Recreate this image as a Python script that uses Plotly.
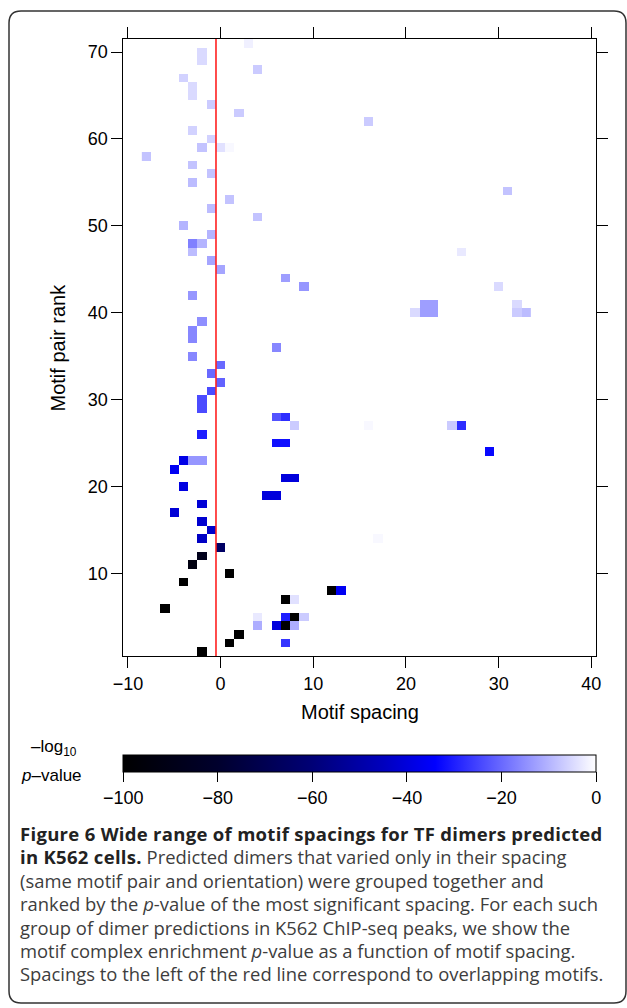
import plotly.graph_objects as go

# ---------------- data ----------------
spacing = [3, -2, -2, 4, -4, -3, -3, -1, 2, 16, -3, -1, -2, 0, 1, -8, -3, -1, -3, 31,
           1, -1, 4, -4, -1, -3, -2, -3, 26, -1, 0, 7, 9, 30, -3, 22, 23, 32,
           21, 22, 23, 32, 33, -2, -3, -3, 6, -3, 0, -1, 0, -1, -2, -2,
           6, 7, 8, 16, 25, 26, -2, 6, 7, 29, -4, -3, -2, -5, 7, 8, -4, 5, 6,
           -2, -5, -2, -1, -2, 17, 0, -2, -3, 1, -4, 12, 13, 7, 8, -6,
           4, 7, 8, 9, 4, 6, 7, 8, 2, 1, 7, -2]
rank = [71, 70, 69, 68, 67, 66, 65, 64, 63, 62, 61, 60, 59, 59, 59, 58, 57, 56, 55, 54,
        53, 52, 51, 50, 49, 48, 48, 47, 47, 46, 45, 44, 43, 43, 42, 41, 41, 41,
        40, 40, 40, 40, 40, 39, 38, 37, 36, 35, 34, 33, 32, 31, 30, 29,
        28, 28, 27, 27, 27, 27, 26, 25, 25, 24, 23, 23, 23, 22, 21, 21, 20, 19, 19,
        18, 17, 16, 15, 14, 14, 13, 12, 11, 10, 9, 8, 8, 7, 7, 6,
        5, 5, 5, 5, 4, 4, 4, 4, 3, 2, 2, 1]
log10p = [-2, -5, -5, -7, -6, -5, -5, -7, -7, -7, -6, -6, -8, -4, -1, -8, -8, -8, -9, -8,
          -8, -9, -8, -10, -10, -17, -10, -9, -3, -12, -12, -13, -14, -5, -14, -13, -13, -5,
          -5, -13, -13, -7, -9, -15, -16, -16, -16, -16, -20, -20, -21, -24, -24, -24,
          -23, -28, -7, -1, -7, -28, -30, -32, -32, -33, -38, -14, -14, -36, -40, -40, -39, -40, -40,
          -41, -41, -42, -43, -44, -1, -65, -88, -93, -100, -100, -100, -36, -100, -4, -100,
          -3, -30, -100, -7, -11, -40, -100, -11, -100, -100, -27, -100]

x_ticks = [-10, 0, 10, 20, 30, 40]
y_ticks = [10, 20, 30, 40, 50, 60, 70]
cbar_ticks = [-100, -80, -60, -40, -20, 0]
overlap_boundary = -0.5

B = '<span style="font-size:18.5px;letter-spacing:0.3px;color:#222222"><b>'
E = '</b></span>'
N = '<span style="font-size:18.4px">'
NE = '</span>'
caption_lines = [
    B + "Figure 6 Wide range of motif spacings for TF dimers predicted" + E,
    B + "in K562 cells." + E + N + " Predicted dimers that varied only in their spacing" + NE,
    N + "(same motif pair and orientation) were grouped together and" + NE,
    N + "ranked by the <i>p</i>-value of the most significant spacing. For each such" + NE,
    N + "group of dimer predictions in K562 ChIP-seq peaks, we show the" + NE,
    N + "motif complex enrichment <i>p</i>-value as a function of motif spacing." + NE,
    N + "Spacings to the left of the red line correspond to overlapping motifs." + NE,
]

# ---------------- build grid ----------------
x_grid = list(range(min(spacing), max(spacing) + 1))
y_grid = list(range(1, max(rank) + 1))
z = [[None] * len(x_grid) for _ in y_grid]
for s, r, v in zip(spacing, rank, log10p):
    z[r - 1][s - x_grid[0]] = v

W, H = 627, 1008
def fx(p): return p / W
def fy(p): return 1 - p / H

PL, PR, PT, PB = 123.3, 596.0, 39.0, 656.0
FONT = "Liberation Sans, Arial, Helvetica, sans-serif"

fig = go.Figure()
fig.add_trace(go.Heatmap(x=x_grid, y=y_grid, z=z, coloraxis="coloraxis",
                         hoverinfo="skip", xgap=0, ygap=0))
fig.add_trace(go.Scatter(x=[overlap_boundary, overlap_boundary], y=[0.5, 71.5],
                         mode="lines", line=dict(color="#ff2020", width=1.6),
                         hoverinfo="skip", showlegend=False))

axis_common = dict(showline=True, linecolor="black", linewidth=1, mirror="ticks",
                   ticks="outside", ticklen=11, tickwidth=1, tickcolor="black",
                   showgrid=False, zeroline=False,
                   tickfont=dict(family=FONT, size=18, color="black"))

colorscale = [
    [0.0, "rgb(0,0,0)"],
    [0.2, "rgb(0,0,45)"],
    [0.4, "rgb(0,0,118)"],
    [0.55, "rgb(0,0,190)"],
    [0.66, "rgb(0,0,255)"],
    [1.0, "rgb(255,255,255)"],
]

fig.update_layout(
    width=W, height=H, margin=dict(l=0, r=0, t=0, b=0, pad=0, autoexpand=False),
    paper_bgcolor="white", plot_bgcolor="white", showlegend=False,
    xaxis=dict(domain=[fx(PL), fx(PR)], range=[-10.5, 40.5], tickvals=x_ticks,
               **axis_common),
    yaxis=dict(domain=[fy(PB), fy(PT)], range=[0.5, 71.5], tickvals=y_ticks,
               **axis_common),
    coloraxis=dict(
        cmin=-100, cmax=0, colorscale=colorscale,
        colorbar=dict(orientation="h", x=fx((PL + PR) / 2), xanchor="center",
                      y=fy(755), yanchor="top", len=(PR - PL) / W, lenmode="fraction",
                      thickness=17, thicknessmode="pixels", outlinewidth=1,
                      outlinecolor="black", xpad=0, ypad=0, ticks="outside",
                      ticklen=10, tickcolor="black", tickvals=cbar_ticks,
                      tickfont=dict(family=FONT, size=18, color="black")),
    ),
)

ann = []
ann.append(dict(text="Motif spacing", x=fx((PL + PR) / 2), y=fy(712), xref="paper",
                yref="paper", showarrow=False, font=dict(family=FONT, size=20, color="black"),
                xanchor="center", yanchor="middle"))
ann.append(dict(text="Motif pair rank", x=fx(57), y=fy((PT + PB) / 2), xref="paper",
                yref="paper", showarrow=False, textangle=-90,
                font=dict(family=FONT, size=20, color="black"),
                xanchor="center", yanchor="middle"))
ann.append(dict(text="\u2013log<sub>10</sub>", x=fx(79), y=fy(748), xref="paper",
                yref="paper", showarrow=False, font=dict(family=FONT, size=17, color="black"),
                xanchor="right", yanchor="middle"))
ann.append(dict(text="<i>p</i>\u2013value", x=fx(84), y=fy(775), xref="paper",
                yref="paper", showarrow=False, font=dict(family=FONT, size=17, color="black"),
                xanchor="right", yanchor="middle"))
ann.append(dict(text="<br>".join(caption_lines), x=fx(18), y=fy((833 + 973.3) / 2),
                xref="paper", yref="paper", showarrow=False, xanchor="left",
                yanchor="middle", align="left",
                font=dict(family="Open Sans, sans-serif", size=18, color="#3d3d3d")))
fig.update_layout(annotations=ann)

# rounded frame around the whole figure
x0, y0, x1, y1, r = 9, 11, 626, 1003, 12
path = (f"M {fx(x0 + r)},{fy(y0)} L {fx(x1 - r)},{fy(y0)} Q {fx(x1)},{fy(y0)} {fx(x1)},{fy(y0 + r)} "
        f"L {fx(x1)},{fy(y1 - r)} Q {fx(x1)},{fy(y1)} {fx(x1 - r)},{fy(y1)} "
        f"L {fx(x0 + r)},{fy(y1)} Q {fx(x0)},{fy(y1)} {fx(x0)},{fy(y1 - r)} "
        f"L {fx(x0)},{fy(y0 + r)} Q {fx(x0)},{fy(y0)} {fx(x0 + r)},{fy(y0)} Z")
fig.add_shape(type="path", path=path, xref="paper", yref="paper",
              line=dict(color="#333333", width=1.5), layer="below")

fig.write_html("out.html", post_script="document.body.style.margin='0';",
               config={"displayModeBar": False})
